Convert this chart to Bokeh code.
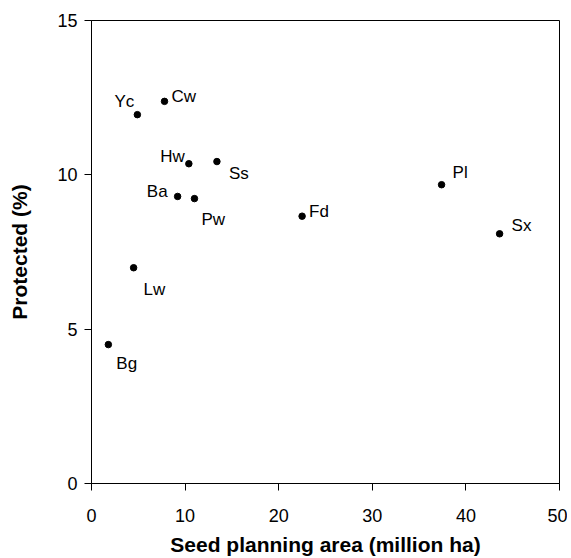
from bokeh.plotting import figure
from bokeh.models import Range1d, FixedTicker, ColumnDataSource
from bokeh.core.properties import value
from bokeh.embed import file_html
from bokeh.resources import INLINE

# ---- data ----
species = ["Yc", "Cw", "Hw", "Ss", "Ba", "Pw", "Lw", "Bg", "Fd", "Pl", "Sx"]
area = [4.9, 7.8, 10.4, 13.4, 9.2, 11.0, 4.5, 1.8, 22.5, 37.4, 43.6]
protected = [11.95, 12.38, 10.36, 10.43, 9.30, 9.23, 6.99, 4.50, 8.66, 9.68, 8.09]
x_ticks = [0, 10, 20, 30, 40, 50]
y_ticks = [0, 5, 10, 15]

# ---- label placement (screen px, relative to point) ----
label_dx = [-3, 7, -4, 12, -10, 7, 10, 8, 7, 11, 12]
label_dy = [-13, -5, -7, 12, -5, 21, 22, 19, -5, -12, -8]
label_align = ["right", "left", "right", "left", "right", "left", "left", "left", "left", "left", "left"]

FONT = "Liberation Sans"

p = figure(width=567, height=558, output_backend="svg", toolbar_location=None,
           x_range=Range1d(0, 50), y_range=Range1d(0, 15),
           min_border_left=91, min_border_right=8, min_border_top=20, min_border_bottom=75)

p.background_fill_color = "white"
p.border_fill_color = "white"
p.outline_line_color = "black"
p.outline_line_width = 1
p.xgrid.visible = False
p.ygrid.visible = False

for ax, ticks in ((p.xaxis[0], x_ticks), (p.yaxis[0], y_ticks)):
    ax.ticker = FixedTicker(ticks=ticks)
    ax.major_tick_out = 7
    ax.major_tick_in = 0
    ax.minor_tick_out = 0
    ax.minor_tick_in = 0
    ax.axis_line_color = "black"
    ax.major_tick_line_color = "black"
    ax.major_label_text_font = FONT
    ax.major_label_text_font_size = "18px"
    ax.major_label_text_color = "black"
    ax.axis_label_text_font = FONT
    ax.axis_label_text_font_size = "21px"
    ax.axis_label_text_font_style = "bold"
    ax.axis_label_text_color = "black"

p.xaxis.axis_label = "Seed planning area (million ha)"
p.yaxis.axis_label = "Protected (%)"
p.xaxis.major_label_standoff = 18
p.yaxis.major_label_standoff = 7
p.xaxis.axis_label_standoff = 8
p.yaxis.axis_label_standoff = 23

src = ColumnDataSource(dict(x=area, y=protected, name=species,
                            dx=label_dx, dy=label_dy, align=label_align))

p.scatter("x", "y", source=src, size=6.5, color="black")
p.text("x", "y", text="name", source=src, x_offset="dx", y_offset="dy",
       text_align="align", text_baseline="alphabetic",
       text_font=value(FONT), text_font_size="17px", text_color="black")

open("out.html", "w").write(file_html(p, INLINE))
